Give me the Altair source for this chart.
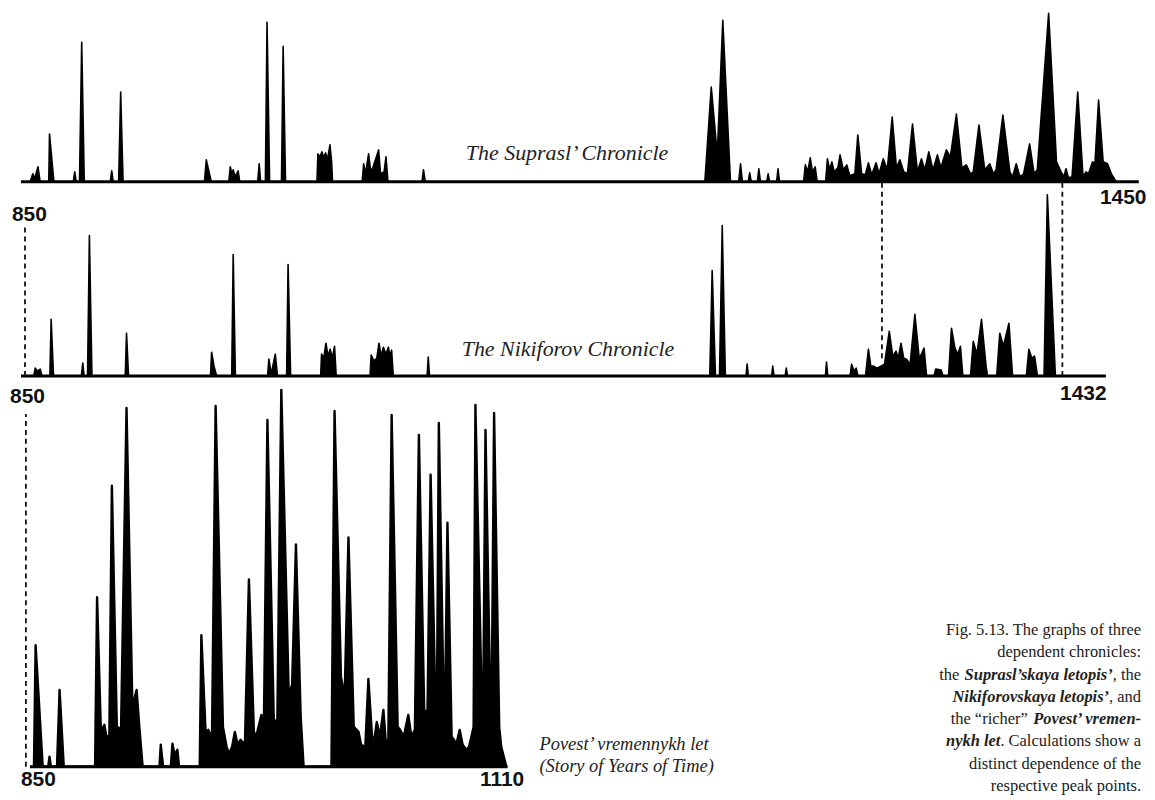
import altair as alt
import pandas as pd

# ---------------- data: outline points (year, relative volume) ----------------
suprasl = [
    (855.0, 0), (856.5, 8), (857.5, 3), (859.3, 15), (860.5, 0),
    (865.2, 0), (865.6, 48), (868.0, 0),
    (878.6, 0), (879.4, 10), (880.2, 0),
    (882.0, 0), (883.2, 140), (884.6, 0),
    (898.8, 0), (899.6, 11), (900.4, 0),
    (903.4, 0), (904.5, 90), (905.8, 0),
    (950.3, 0), (951.3, 22), (954.0, 0),
    (963.6, 0), (964.4, 15), (965.3, 8), (966.0, 12), (967.0, 5), (968.7, 11), (969.6, 0),
    (979.4, 0), (980.2, 18), (981.0, 0),
    (983.6, 0), (984.5, 160), (985.9, 0),
    (992.4, 0), (993.3, 136), (994.6, 0),
    (1011.8, 0), (1012.3, 28), (1013.5, 25), (1014.5, 30), (1015.5, 24), (1016.5, 29),
    (1017.5, 22), (1018.9, 37), (1019.8, 20), (1020.3, 0),
    (1036.5, 0), (1037.3, 18), (1038.3, 8), (1040.0, 28), (1041.2, 10), (1042.5, 15),
    (1045.5, 32), (1046.5, 8), (1048.5, 10), (1049.5, 25), (1050.6, 0),
    (1069.2, 0), (1070.0, 12), (1071.0, 0),
    (1223.8, 0), (1227.3, 95), (1230.6, 27), (1233.6, 162), (1237.8, 0),
    (1242.3, 0), (1243.3, 18), (1244.3, 0),
    (1247.5, 0), (1248.3, 9), (1249.2, 0),
    (1252.5, 0), (1253.3, 13), (1254.2, 0),
    (1257.6, 0), (1258.4, 8), (1259.2, 0),
    (1263.0, 0), (1263.8, 13), (1264.6, 0),
    (1277.8, 0), (1278.7, 17), (1280.0, 10), (1281.4, 24), (1282.6, 10), (1284.1, 15), (1285.2, 0),
    (1289.8, 0), (1290.8, 23), (1292.0, 12), (1293.2, 20), (1294.5, 10), (1296.5, 14),
    (1297.7, 27), (1299.5, 12), (1301.4, 17), (1303.0, 6), (1305.8, 8), (1307.4, 47),
    (1309.5, 8), (1311.5, 7), (1313.2, 19), (1315.0, 7), (1317.4, 19), (1319.0, 8),
    (1321.3, 23), (1323.5, 12), (1326.2, 65), (1328.5, 14), (1330.4, 22), (1332.5, 10),
    (1334.5, 8), (1337.3, 58), (1340.0, 10), (1342.2, 23), (1344.0, 12), (1346.2, 30),
    (1348.5, 12), (1350.9, 27), (1352.8, 14), (1355.8, 32), (1358.0, 25), (1361.3, 68),
    (1364.3, 14), (1366.7, 17), (1369.0, 8), (1370.5, 10), (1373.6, 57), (1376.8, 12),
    (1379.5, 18), (1381.5, 8), (1383.0, 12), (1386.7, 67), (1390.5, 10), (1392.0, 5),
    (1394.0, 18), (1396.0, 5), (1398.0, 8), (1401.3, 38), (1403.8, 8), (1405.5, 12),
    (1411.7, 169), (1416.0, 20), (1418.5, 10), (1420.0, 5), (1421.2, 13), (1422.5, 4),
    (1424.5, 5), (1427.6, 90), (1430.5, 5), (1432.1, 10), (1433.5, 8), (1435.7, 20),
    (1437.0, 18), (1439.0, 82), (1441.5, 20), (1443.9, 18), (1446.0, 8), (1448.6, 0),
]

nikiforov = [
    (857.0, 0), (857.8, 8), (859.0, 5), (860.5, 7), (861.5, 0),
    (865.8, 0), (866.5, 57), (867.8, 0),
    (883.0, 0), (883.8, 13), (884.5, 0),
    (886.4, 0), (887.4, 141), (888.8, 0),
    (907.0, 0), (907.7, 43), (908.8, 0),
    (953.6, 0), (954.2, 24), (955.5, 10), (957.0, 0),
    (965.2, 0), (966.0, 122), (967.2, 0),
    (984.8, 0), (985.5, 17), (986.8, 2), (989.0, 22), (990.2, 0),
    (995.2, 0), (996.0, 112), (997.4, 0),
    (1013.8, 0), (1014.3, 22), (1015.5, 18), (1016.7, 33), (1017.8, 20), (1019.0, 27),
    (1020.2, 18), (1021.4, 30), (1022.3, 0),
    (1040.8, 0), (1041.4, 21), (1043.0, 15), (1044.5, 18), (1045.7, 33), (1046.8, 20),
    (1048.1, 29), (1049.5, 22), (1050.8, 29), (1051.8, 20), (1052.6, 26), (1053.5, 0),
    (1072.0, 0), (1072.6, 19), (1073.3, 0),
    (1226.5, 0), (1227.8, 106), (1229.6, 0), (1231.8, 0), (1233.3, 151), (1235.0, 0),
    (1246.3, 0), (1246.9, 12), (1247.6, 0),
    (1260.3, 0), (1260.9, 10), (1261.6, 0),
    (1267.7, 0), (1268.3, 8), (1269.0, 0),
    (1289.7, 0), (1290.3, 14), (1291.0, 0),
    (1303.2, 0), (1304.0, 12), (1305.3, 5), (1306.5, 8), (1307.5, 0),
    (1311.6, 0), (1313.2, 27), (1314.5, 10), (1316.0, 10), (1318.0, 8), (1320.0, 10),
    (1322.0, 12), (1324.6, 45), (1326.5, 20), (1328.3, 25), (1329.5, 18), (1331.0, 33),
    (1332.5, 18), (1334.0, 17), (1336.0, 12), (1338.6, 62), (1341.0, 17), (1343.6, 28), (1345.0, 0),
    (1349.0, 0), (1350.0, 7), (1353.0, 6), (1354.0, 0),
    (1357.0, 0), (1358.6, 48), (1360.5, 28), (1362.0, 22), (1363.5, 30), (1364.8, 0),
    (1369.0, 0), (1370.5, 35), (1372.5, 22), (1375.0, 57), (1377.5, 10), (1378.3, 0),
    (1383.3, 0), (1385.0, 43), (1387.0, 30), (1390.0, 53), (1392.0, 0),
    (1399.5, 0), (1400.9, 27), (1402.5, 18), (1404.0, 20), (1405.6, 0),
    (1409.2, 0), (1411.0, 182), (1415.4, 0),
]

povest = [
    (852.2, 0), (853.1, 122), (857.0, 0),
    (860.0, 0), (860.7, 10), (861.5, 0),
    (864.8, 0), (866.2, 77), (868.5, 0),
    (885.6, 0), (886.7, 170), (888.8, 35), (890.7, 42), (892.0, 28), (893.4, 32),
    (894.8, 282), (897.5, 40), (899.8, 38), (902.8, 360), (906.0, 60), (908.3, 77),
    (909.8, 40), (911.6, 0),
    (920.8, 0), (921.5, 22), (922.8, 0),
    (927.0, 0), (927.9, 23), (929.0, 12), (930.6, 17), (931.5, 0),
    (942.8, 0), (943.7, 132), (946.0, 35), (947.5, 37), (949.5, 28), (951.5, 362),
    (955.5, 40), (957.5, 20), (958.8, 13), (960.5, 20), (962.0, 35), (963.5, 22),
    (965.1, 27), (967.5, 22), (969.7, 188), (972.5, 30), (974.3, 35), (976.5, 52),
    (977.8, 30), (979.8, 348), (983.3, 47), (985.2, 45), (987.4, 378), (991.5, 70),
    (993.3, 83), (995.4, 223), (998.0, 50), (999.6, 0),
    (1014.8, 0), (1016.5, 357), (1020.0, 90), (1022.0, 70), (1024.1, 230), (1027.0, 40),
    (1029.6, 35), (1031.0, 22), (1033.3, 20), (1035.0, 88), (1037.0, 30), (1038.3, 28),
    (1039.6, 45), (1041.3, 30), (1043.2, 57), (1044.5, 25), (1045.9, 27), (1047.7, 353),
    (1051.0, 40), (1052.3, 37), (1054.3, 30), (1056.8, 52), (1058.5, 30), (1060.4, 37),
    (1062.6, 333), (1065.5, 57), (1067.3, 55), (1069.0, 293), (1071.3, 90), (1072.5, 75),
    (1073.5, 345), (1075.9, 87), (1077.0, 75), (1078.2, 245), (1080.5, 30), (1081.8, 27),
    (1083.0, 22), (1084.9, 37), (1086.5, 22), (1088.6, 17), (1090.0, 20), (1091.3, 30),
    (1092.5, 40), (1093.5, 363), (1096.8, 77), (1097.8, 70), (1099.0, 338), (1101.3, 97),
    (1102.5, 90), (1103.7, 355), (1106.5, 40), (1107.6, 20), (1110.4, 0),
]

# axis tick labels (years)
suprasl_ticks = [850, 1450]
nikiforov_ticks = [850, 1432]
povest_ticks = [850, 1110]

# extent of each drawn base line (years)
suprasl_span = [850, 1461]
nikiforov_span = [850, 1443]
povest_span = [850, 1111]

# panel heights (1 unit of volume = 1 px)
P1_H, P2_H, P3_H = 172, 195, 392

# dashed connector lines: (year, lower level, upper level)
nikiforov_links = [(852.2, 0, 150), (1320.6, 18, P2_H), (1419.2, 0, P2_H)]
povest_links = [(847.8, 0, 354)]

# in-chart labels: (year, level, text)
suprasl_label = [(1148.5, 22, "The Suprasl’ Chronicle")]
nikiforov_label = [(1149.0, 20, "The Nikiforov Chronicle")]
povest_label = [(1128.5, 23, "Povest’ vremennykh let"),
                (1128.5, 0.5, "(Story of Years of Time)")]

# caption: (line, text, bold-italic, shift from right edge in em)
caption_segments = [
    (0, "Fig. 5.13. The graphs of three", False, 0.0),
    (1, "dependent chronicles:", False, 0.0),
    (2, "the", False, 11.056),
    (2, "Suprasl’skaya letopis’", True, 1.722),
    (2, ", the", False, 0.0),
    (3, "Nikiforovskaya letopis’", True, 1.944),
    (3, ", and", False, 0.0),
    (4, "the “richer”", False, 6.887),
    (4, "Povest’ vremen-", True, 0.0),
    (5, "nykh let", True, 8.555),
    (5, ". Calculations show a", False, 0.0),
    (6, "distinct dependence of the", False, 0.0),
    (7, "respective peak points.", False, 0.0),
]

# ---------------- styling ----------------
PX = 1.836  # pixels per year (same in all three graphs)
DIGITS = "Liberation Sans Narrow, Liberation Sans, sans-serif"
SERIF = "Liberation Serif"
INK = "#111111"
CAP_FS = 16.5
CAP_LH = 22.3


def x_axis(ticks, off_first, off_last, pad_first, pad_last):
    return alt.Axis(
        values=ticks, title=None, grid=False, ticks=False, domain=False, format="d",
        labelFont=DIGITS, labelFontSize=21, labelFontWeight="bold", labelColor=INK,
        labelFlush=False, labelOverlap=False, labelBaseline="top",
        labelOffset={"condition": {"test": "datum.value == 850", "value": off_first},
                     "value": off_last},
        labelPadding={"condition": {"test": "datum.value == 850", "value": pad_first},
                      "value": pad_last},
    )


def panel(points, span, x0, width, height, axis, links=None, labels=None,
          label_align="center", label_size=22, label_baseline="alphabetic",
          outline=1.6, extra=()):
    xs = alt.Scale(domain=[x0, x0 + width / PX], nice=False, zero=False)
    ys = alt.Scale(domain=[0, height], nice=False)

    def X(f):
        return alt.X(f, type="quantitative", scale=xs, axis=axis)

    def Y(f):
        return alt.Y(f, type="quantitative", scale=ys, axis=None)

    df = pd.DataFrame(points, columns=["year", "value"])
    layers = [
        alt.Chart(df).mark_area(color="black", stroke="black", strokeWidth=outline,
                                strokeJoin="round", interpolate="linear")
        .encode(x=X("year"), y=Y("value"))
    ]
    base_df = pd.DataFrame({"start": [span[0]], "end": [span[1]], "level": [0]})
    layers.append(
        alt.Chart(base_df).mark_rule(color="black", strokeWidth=3)
        .encode(x=X("start"), x2="end", y=Y("level"))
    )
    if links:
        ldf = pd.DataFrame(links, columns=["year", "low", "high"])
        layers.append(
            alt.Chart(ldf).mark_rule(color=INK, strokeWidth=1.8, strokeDash=[5, 4])
            .encode(x=X("year"), y=Y("low"), y2="high")
        )
    if labels:
        tdf = pd.DataFrame(labels, columns=["year", "level", "text"])
        layers.append(
            alt.Chart(tdf).mark_text(font=SERIF, fontStyle="italic", fontSize=label_size,
                                     color="#222222", align=label_align,
                                     baseline=label_baseline)
            .encode(x=X("year"), y=Y("level"), text="text:N")
        )
    layers.extend(extra)
    return alt.layer(*layers).properties(width=width, height=height)


# caption layers, placed in the third panel (right-aligned block)
P3_TOP = 8 + P1_H + P2_H
cap_right = 1142 - 8
cap_top = 630 - P3_TOP
caption_layers = []
for line, text, bi, shift in caption_segments:
    caption_layers.append(
        alt.Chart(pd.DataFrame({"t": [text]}))
        .mark_text(font=SERIF, fontSize=CAP_FS, align="right", baseline="middle",
                   color="#222222",
                   fontStyle="italic" if bi else "normal",
                   fontWeight="bold" if bi else "normal")
        .encode(text="t:N",
                x=alt.value(cap_right - shift * CAP_FS),
                y=alt.value(cap_top + line * CAP_LH))
    )

p1 = panel(suprasl, suprasl_span, 844.55, 1132, P1_H,
           x_axis(suprasl_ticks, 8, 4, 22, 5), labels=suprasl_label)
p2 = panel(nikiforov, nikiforov_span, 844.55, 1102, P2_H,
           x_axis(nikiforov_ticks, 6, -3, 9, 6), links=nikiforov_links,
           labels=nikiforov_label)
p3 = panel(povest, povest_span, 839.65, 510, P3_H,
           x_axis(povest_ticks, 8, -4, 2, 2), links=povest_links,
           labels=povest_label, label_align="left", label_size=18.5,
           label_baseline="middle", outline=2.4, extra=caption_layers)

chart = (
    alt.vconcat(p1, p2, p3, spacing=0, bounds="flush")
    .properties(padding=0, background="white")
    .configure_view(stroke="transparent")
)

chart.save("out.html", embed_options={"renderer": "svg", "actions": False})
